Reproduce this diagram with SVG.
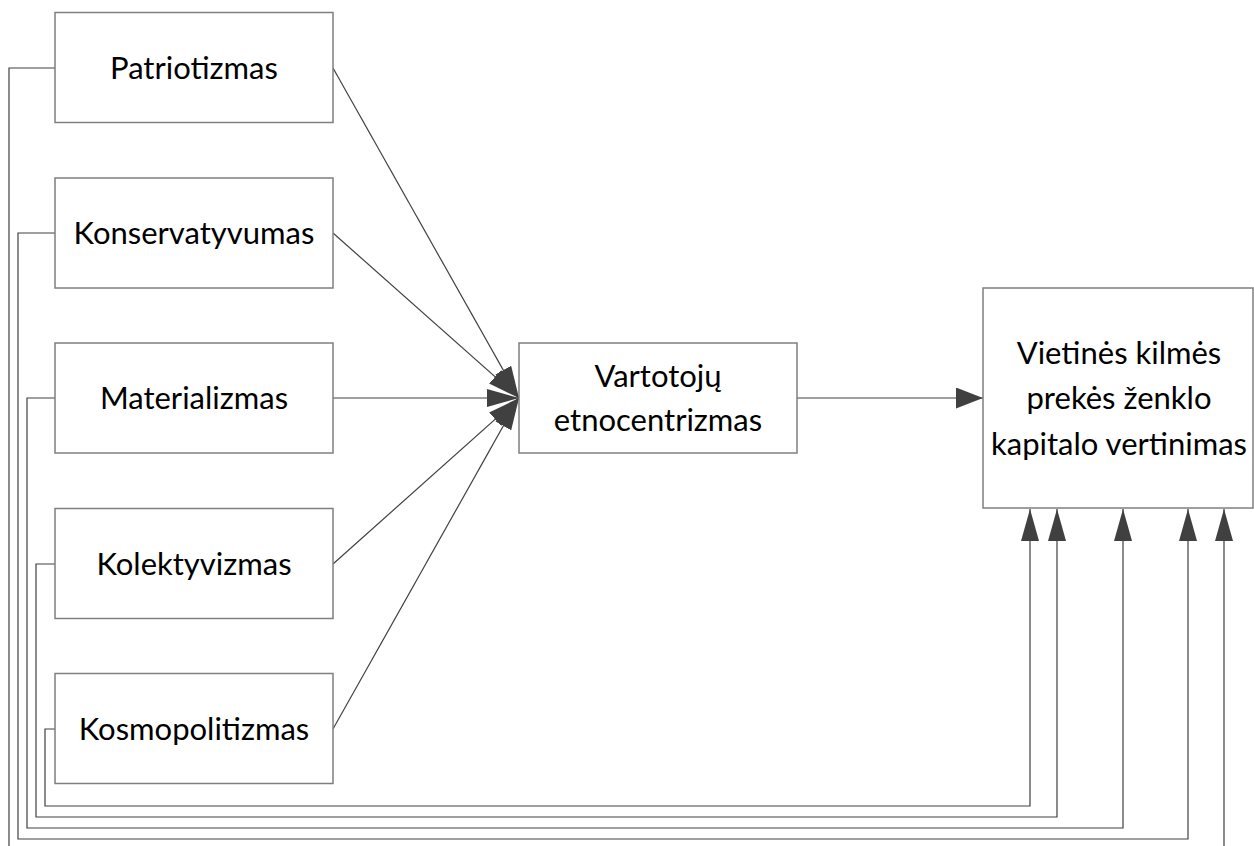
<svg xmlns="http://www.w3.org/2000/svg" width="1254" height="846" viewBox="0 0 1254 846">
<style>
.box{fill:#fff;stroke:#7f7f7f;stroke-width:1.5}
.t{font-family:Lato,"Open Sans","Liberation Sans",sans-serif;font-size:31px;fill:#000;text-anchor:middle}
.c{fill:none;stroke:#404040;stroke-width:1.2}
</style>
<defs>
<marker id="ah" markerUnits="userSpaceOnUse" markerWidth="28" markerHeight="21" refX="27" refY="10.5" orient="auto" viewBox="0 0 28 21">
<path d="M0,0 L27,10.5 L0,21 z" fill="#404040"/>
</marker>
<marker id="av" markerUnits="userSpaceOnUse" markerWidth="32" markerHeight="18" refX="32" refY="9" orient="auto" viewBox="0 0 32 18">
<path d="M0,0 L32,9 L0,18 z" fill="#404040"/>
</marker>
</defs>
<g id="connectors">
<path class="c" d="M333,68 L519,398" marker-end="url(#av)"/>
<path class="c" d="M333,233 L519,398" marker-end="url(#av)"/>
<path class="c" d="M333,398 L519,398" marker-end="url(#av)"/>
<path class="c" d="M333,564 L519,398" marker-end="url(#av)"/>
<path class="c" d="M333,729 L519,398" marker-end="url(#av)"/>
<path class="c" d="M797,398 L983,398" marker-end="url(#ah)"/>
<path class="c" d="M55,729 H45 V806 H1030 V509" marker-end="url(#av)"/>
<path class="c" d="M55,564 H36 V817 H1057 V509" marker-end="url(#av)"/>
<path class="c" d="M55,398 H27 V828 H1123 V509" marker-end="url(#av)"/>
<path class="c" d="M55,233 H18 V839 H1188 V509" marker-end="url(#av)"/>
<path class="c" d="M55,68 H9 V870 H1224 V509" marker-end="url(#av)"/>
</g>
<g id="patriotizmas"><rect class="box" x="55" y="12.5" width="278" height="110"/><text class="t" x="194" y="78.5">Patriotizmas</text></g>
<g id="konservatyvumas"><rect class="box" x="55" y="178" width="278" height="110"/><text class="t" x="194" y="244">Konservatyvumas</text></g>
<g id="materializmas"><rect class="box" x="55" y="343" width="278" height="110"/><text class="t" x="194" y="409">Materializmas</text></g>
<g id="kolektyvizmas"><rect class="box" x="55" y="508.5" width="278" height="110"/><text class="t" x="194" y="574.5">Kolektyvizmas</text></g>
<g id="kosmopolitizmas"><rect class="box" x="55" y="673.5" width="278" height="110"/><text class="t" x="194" y="739.5">Kosmopolitizmas</text></g>
<g id="etnocentrizmas"><rect class="box" x="519" y="343" width="278" height="110"/><text class="t" x="658" y="387">Vartotojų</text><text class="t" x="658" y="431">etnocentrizmas</text></g>
<g id="vertinimas"><rect class="box" x="983" y="288" width="270" height="220"/><text class="t" x="1119" y="364">Vietinės kilmės</text><text class="t" x="1119" y="409">prekės ženklo</text><text class="t" x="1119" y="455">kapitalo vertinimas</text></g>
</svg>
